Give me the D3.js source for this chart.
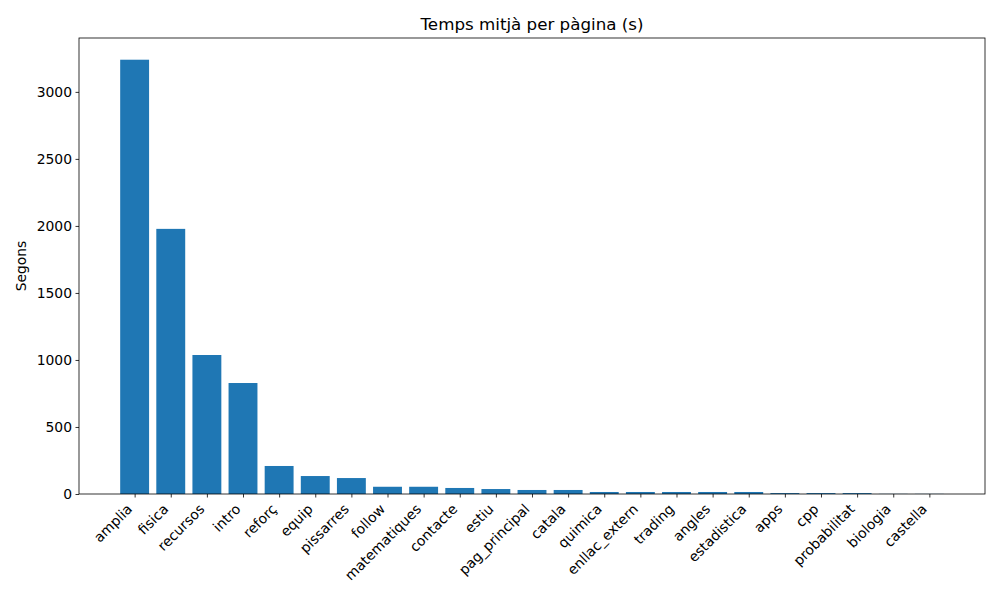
<!DOCTYPE html>
<html><head><meta charset="utf-8">
<script src="https://cdn.jsdelivr.net/npm/d3@7"></script>
<style>body{margin:0;background:#fff;} svg{display:block;font-family:"DejaVu Sans",sans-serif;}</style>
</head><body>
<svg id="c" width="1000" height="600"></svg>
<script>
const categories = ["amplia","fisica","recursos","intro","reforç","equip","pissarres","follow","matematiques","contacte","estiu","pag_principal","catala","quimica","enllac_extern","trading","angles","estadistica","apps","cpp","probabilitat","biologia","castella"];
const values = [3240,1978,1037,828,209,134,119,54,54,45,37,30,30,15,15,15,15,15,7,7,7,1,1];
const yTicks = [0,500,1000,1500,2000,2500,3000];
const title = "Temps mitjà per pàgina (s)";
const yLabel = "Segons";

const svg = d3.select("#c");
const L=79, R=985, T=38, B=494;
const n = categories.length;
const x = d3.scaleLinear().domain([-0.4-0.05*(n-0.2), n-1+0.4+0.05*(n-0.2)]).range([L,R]);
const ymax = d3.max(values)*1.05;
const y = d3.scaleLinear().domain([0,ymax]).range([B,T]);

svg.append("g").selectAll("rect").data(values).join("rect")
  .attr("x",(d,i)=>x(i-0.4)).attr("width",(d,i)=>x(i+0.4)-x(i-0.4))
  .attr("y",d=>y(d)).attr("height",d=>y(0)-y(d)).attr("fill","#1f77b4");

const yAxis = svg.append("g").attr("transform",`translate(${L},0)`)
  .call(d3.axisLeft(y).tickValues(yTicks).tickSize(3.5).tickPadding(3.5).tickFormat(d3.format("d")));
yAxis.select(".domain").remove();
yAxis.selectAll("text").attr("font-size","13.9px").attr("fill","#000").attr("font-family","DejaVu Sans");
yAxis.selectAll("line").attr("stroke","#000").attr("stroke-width",0.8);

const xAxis = svg.append("g").attr("transform",`translate(0,${B})`)
  .call(d3.axisBottom(x).tickValues(d3.range(n)).tickSize(3.5).tickFormat(i=>categories[i]));
xAxis.select(".domain").remove();
xAxis.selectAll("line").attr("stroke","#000").attr("stroke-width",0.8);
xAxis.selectAll("text").attr("font-size","13.9px").attr("fill","#000").attr("font-family","DejaVu Sans")
  .attr("text-anchor","end").attr("dy",null).attr("y",0)
  .attr("transform","translate(-2,16) rotate(-45)");

svg.append("rect").attr("x",L).attr("y",T).attr("width",R-L).attr("height",B-T)
  .attr("fill","none").attr("stroke","#000").attr("stroke-width",0.8);

svg.append("text").attr("x",(L+R)/2).attr("y",T-8).attr("text-anchor","middle")
  .attr("font-size","16.7px").text(title);
svg.append("text").attr("transform",`translate(26,${(T+B)/2}) rotate(-90)`).attr("text-anchor","middle")
  .attr("font-size","13.9px").text(yLabel);
</script>
</body></html>
